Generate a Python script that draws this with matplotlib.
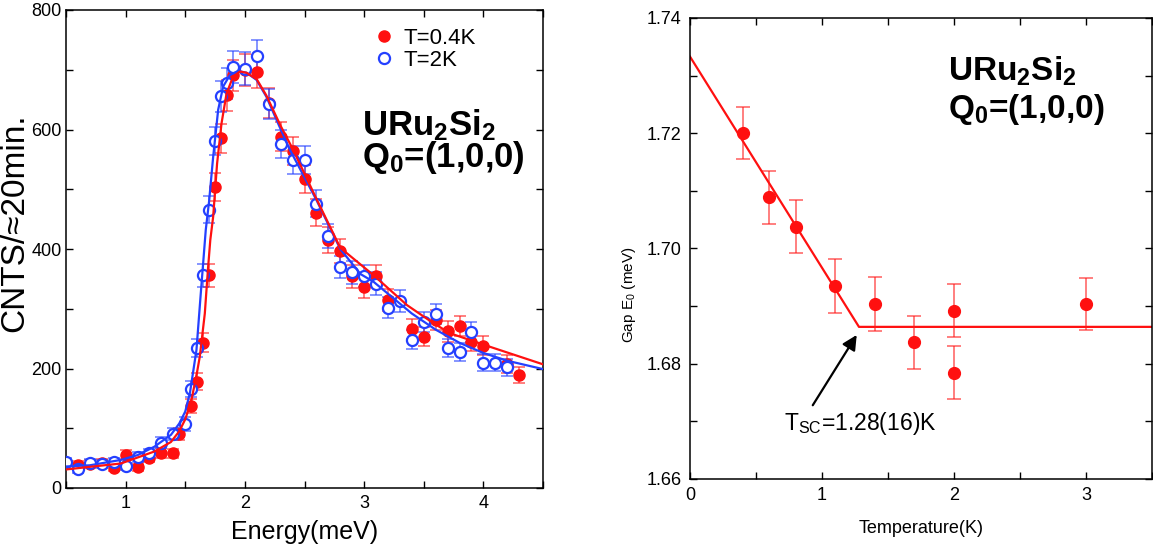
import matplotlib
matplotlib.use('Agg')
from matplotlib import pyplot as plt
from matplotlib.ticker import MultipleLocator
from matplotlib.lines import Line2D

plt.rcParams['font.family'] = ['Liberation Sans', 'DejaVu Sans']
plt.rcParams['mathtext.fontset'] = 'custom'
plt.rcParams['mathtext.rm'] = 'Liberation Sans'
plt.rcParams['mathtext.bf'] = 'Liberation Sans:bold'
plt.rcParams['mathtext.it'] = 'Liberation Sans:italic'

RED = '#ff1010'
BLUE = '#2440ff'
RED_E = (1.0, 0.1, 0.1, 0.65)
BLUE_E = (0.15, 0.25, 1.0, 0.65)

# left panel: energy scans
e_2k = [0.5, 0.6, 0.7, 0.8, 0.9, 1.0, 1.1, 1.2, 1.3, 1.4, 1.5,
        1.55, 1.6, 1.65, 1.7, 1.75, 1.8, 1.85, 1.9,
        2.0, 2.1, 2.2, 2.3, 2.4, 2.5, 2.6, 2.7, 2.8, 2.9, 3.0, 3.1,
        3.2, 3.3, 3.4, 3.5, 3.6, 3.7, 3.8, 3.9, 4.0, 4.1, 4.2]
cnt_2k = [44, 31, 42, 40, 43, 36, 52, 58, 76, 91, 107,
          166, 234, 356, 466, 581, 656, 677, 704,
          702, 723, 643, 576, 549, 549, 476, 422, 370, 361, 355, 342,
          302, 313, 248, 278, 291, 235, 228, 261, 210, 210, 202]
err_2k = [7, 6, 7, 7, 7, 6, 8, 8, 9, 10, 11,
          13, 15, 19, 22, 24, 26, 26, 27,
          27, 27, 25, 24, 23, 23, 22, 20, 19, 19, 19, 19,
          17, 18, 16, 17, 17, 15, 15, 16, 15, 15, 14]

e_04k = [0.6, 0.7, 0.8, 0.9, 1.0, 1.1, 1.2, 1.3, 1.4,
         1.45, 1.55, 1.6, 1.65, 1.7, 1.75, 1.8, 1.85, 1.9,
         2.0, 2.1, 2.2, 2.3, 2.4, 2.5, 2.6, 2.7, 2.8, 2.9, 3.0, 3.1, 3.2,
         3.4, 3.5, 3.6, 3.7, 3.8, 3.9, 4.0, 4.2, 4.3]
cnt_04k = [38, 40, 42, 34, 56, 35, 50, 59, 58,
           90, 137, 178, 243, 356, 504, 585, 657, 691,
           700, 697, 645, 588, 564, 517, 461, 415, 397, 354, 337, 355, 315,
           266, 253, 281, 262, 271, 245, 238, 207, 189]
err_04k = [7, 7, 7, 6, 8, 6, 7, 8, 8,
           10, 12, 14, 16, 19, 23, 24, 26, 26,
           27, 27, 25, 24, 24, 23, 22, 21, 20, 19, 19, 19, 18,
           17, 16, 17, 17, 17, 16, 16, 15, 14]

# fitted curves
fit_e_2k = [0.5, 0.7, 0.96, 1.1, 1.24, 1.38, 1.45, 1.5, 1.54, 1.594, 1.628,
            1.65, 1.672, 1.7, 1.734, 1.776, 1.818, 1.874, 1.944, 2.014,
            2.098, 2.18, 2.29, 2.378, 2.6, 2.8, 2.97, 3.08, 3.4, 3.6, 3.8,
            4.0, 4.2, 4.5]
fit_c_2k = [36, 38, 47, 55, 69, 89, 108, 128, 160, 231, 320,
            376, 432, 480, 554, 633, 672, 691, 698, 695,
            683, 655, 605, 566, 482, 400, 358, 345, 292, 265, 243,
            226, 213, 199]
fit_e_04k = [0.5, 0.68, 0.96, 1.24, 1.38, 1.45, 1.5, 1.55, 1.6, 1.622,
             1.664, 1.69, 1.71, 1.734, 1.767, 1.804, 1.846, 1.9, 1.958,
             2.014, 2.1, 2.18, 2.3, 2.4, 2.6, 2.8, 3.08, 3.36, 3.58, 3.72,
             4.03, 4.5]
fit_c_04k = [31, 35, 41, 61, 77, 95, 115, 145, 195, 220,
             292, 365, 415, 454, 543, 610, 660, 688, 697,
             695, 684, 657, 606, 568, 484, 402, 356, 306, 276, 259,
             238, 207]

# right panel: gap vs temperature
temp = [0.4, 0.6, 0.8, 1.1, 1.4, 1.7, 2.0, 2.0, 3.0]
gap = [1.7200, 1.7089, 1.7038, 1.6935, 1.6903, 1.6837, 1.6892, 1.6784, 1.6903]
gap_err = [0.0045, 0.0046, 0.0046, 0.0047, 0.0047, 0.0046, 0.0046, 0.0046, 0.0045]
fit_t = [0.0, 1.28, 3.5]
fit_gap = [1.7333, 1.6864, 1.6864]

W, H = 1153, 552
fig = plt.figure(figsize=(W / 100, H / 100), dpi=100)
ax1 = fig.add_axes([66 / W, 1 - 488 / H, 477 / W, 478 / H])
ax2 = fig.add_axes([690 / W, 1 - 479 / H, 462 / W, 461 / H])

for ax in (ax1, ax2):
    ax.tick_params(which='both', direction='in', top=True, right=True,
                   length=5, width=1.0, labelsize=13)
    for s in ax.spines.values():
        s.set_linewidth(1.1)

# ---- left
ax1.errorbar(e_04k, cnt_04k, yerr=err_04k, fmt='none', ecolor=RED_E,
             elinewidth=1.2, capsize=4.5, capthick=1.2, zorder=2)
ax1.errorbar(e_2k, cnt_2k, yerr=err_2k, fmt='none', ecolor=BLUE_E,
             elinewidth=1.2, capsize=4.5, capthick=1.2, zorder=2)
ax1.plot(e_04k, cnt_04k, 'o', ms=8, mfc=RED, mec=RED, zorder=3)
ax1.plot(e_2k, cnt_2k, 'o', ms=8, mfc='white', mec=BLUE, mew=1.6, zorder=4)
ax1.plot(fit_e_2k, fit_c_2k, '-', color=BLUE, lw=1.6, zorder=5)
ax1.plot(fit_e_04k, fit_c_04k, '-', color=RED, lw=1.6, zorder=5)

ax1.set_xlim(0.5, 4.5)
ax1.set_ylim(0, 800)
ax1.xaxis.set_major_locator(MultipleLocator(1))
ax1.xaxis.set_minor_locator(MultipleLocator(0.5))
ax1.yaxis.set_major_locator(MultipleLocator(200))
ax1.yaxis.set_minor_locator(MultipleLocator(100))
ax1.tick_params(axis='x', pad=5)
ax1.tick_params(axis='y', pad=3)
ax1.set_xlabel('Energy(meV)', fontsize=18, labelpad=6)
ax1.set_ylabel('CNTS/\u224820min.', fontsize=24)
ax1.yaxis.set_label_coords(-0.074, 0.555)

handles = [Line2D([], [], ls='none', marker='o', ms=8, mfc=RED, mec=RED),
           Line2D([], [], ls='none', marker='o', ms=8, mfc='white', mec=BLUE, mew=1.6)]
ax1.legend(handles, ['T=0.4K', 'T=2K'], loc='upper left',
           bbox_to_anchor=(0.644, 0.962), frameon=False, fontsize=16,
           handlelength=1.0, handletextpad=0.35, labelspacing=0.05,
           borderpad=0, borderaxespad=0)

ax1.text(2.98, 591, r'URu$_\mathbf{2}$Si$_\mathbf{2}$', fontsize=25,
         fontweight='bold', ha='left', va='baseline')
ax1.text(2.98, 537, r'Q$_\mathbf{0}$=(1,0,0)', fontsize=25,
         fontweight='bold', ha='left', va='baseline')

# ---- right
ax2.plot(fit_t, fit_gap, '-', color=RED, lw=1.6, zorder=2)
ax2.errorbar(temp, gap, yerr=gap_err, fmt='none', ecolor=RED_E,
             elinewidth=1.2, capsize=5, capthick=1.2, zorder=3)
ax2.plot(temp, gap, 'o', ms=8.5, mfc=RED, mec=RED, zorder=4)

ax2.set_xlim(0, 3.5)
ax2.set_ylim(1.66, 1.74)
ax2.xaxis.set_major_locator(MultipleLocator(1))
ax2.xaxis.set_minor_locator(MultipleLocator(0.5))
ax2.yaxis.set_major_locator(MultipleLocator(0.02))
ax2.yaxis.set_minor_locator(MultipleLocator(0.01))
ax2.yaxis.set_major_formatter(plt.FormatStrFormatter('%.2f'))
ax2.tick_params(axis='x', pad=6)
ax2.tick_params(axis='y', pad=6)
ax2.set_xlabel('Temperature(K)', fontsize=13, labelpad=11)
ax2.set_ylabel(r'Gap E$_0$ (meV)', fontsize=11)
ax2.yaxis.set_label_coords(-0.113, 0.40)

ax2.text(1.955, 1.7292, r'URu$_\mathbf{2}$Si$_\mathbf{2}$', fontsize=24,
         fontweight='bold', ha='left', va='baseline')
ax2.text(1.955, 1.7226, r'Q$_\mathbf{0}$=(1,0,0)', fontsize=24,
         fontweight='bold', ha='left', va='baseline')

ax2.annotate('', xy=(1.263, 1.6850), xytext=(0.93, 1.6728),
             arrowprops=dict(arrowstyle='-|>', color='black', lw=1.6,
                             mutation_scale=22, shrinkA=0, shrinkB=0))
ax2.text(0.71, 1.6685, r'T$_{\rm SC}$=1.28(16)K', fontsize=16.5, ha='left', va='baseline')

fig.savefig('out.png', dpi=100)
